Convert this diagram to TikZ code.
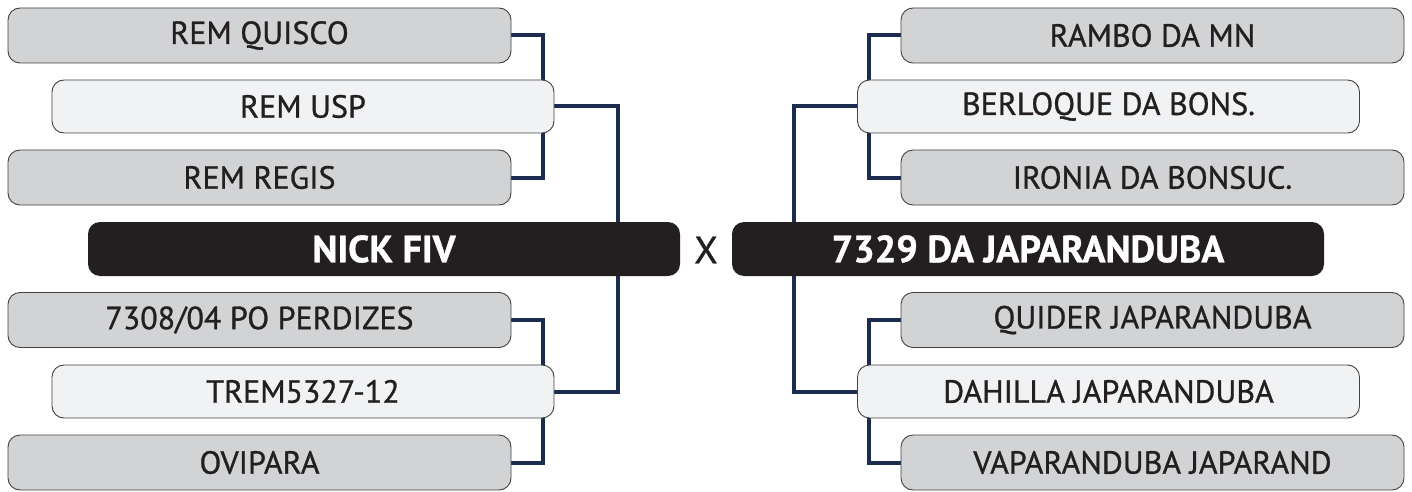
\documentclass[tikz,border=0pt]{standalone}
\usepackage{fontspec}
\setmainfont{PT Sans}[FakeBold=0.9]
\usepackage{tikz}
\usetikzlibrary{positioning,backgrounds}
\definecolor{navy}{RGB}{27,44,78}
\definecolor{ink}{RGB}{35,31,32}
\definecolor{boxgray}{RGB}{209,211,212}
\definecolor{boxlight}{RGB}{241,242,243}

\begin{document}
\begin{tikzpicture}[
  x=1pt, y=-1pt,
  every node/.style={font=\fontsize{32}{34}\selectfont, text=ink, inner sep=0pt},
  entry/.style={draw=ink!85, line width=0.9pt, rounded corners=12pt,
    fill=boxgray, minimum width=503pt, minimum height=55pt},
  winner/.style={entry, fill=boxlight, minimum width=502pt, minimum height=53pt},
  final/.style={fill=ink, rounded corners=12pt, minimum width=592pt,
    minimum height=54pt, text=white, font=\fontsize{38}{40}\selectfont\bfseries},
  link/.style={draw=navy, line width=4pt}
]
  \useasboundingbox (0,0) rectangle (1412,492);

  % Left bracket
  \node[entry]  (quisco) at (259.5,35.5) {REM QUISCO};
  \node[winner] (usp)    at (303,106.5)  {REM USP};
  \node[entry]  (regis)  at (259.5,177.5) {REM REGIS};
  \node[entry]  (perdiz) at (259.5,320) {7308/04 PO PERDIZES};
  \node[winner] (trem)   at (303,391.5)  {TREM5327-12};
  \node[entry]  (ovip)   at (259.5,462.5) {OVIPARA};

  % Right bracket
  \node[entry]  (rambo)    at (1152.5,35.5) {RAMBO DA MN};
  \node[winner] (berloque) at (1108.5,106.5) {BERLOQUE DA BONS.};
  \node[entry]  (ironia)   at (1152.5,177.5) {IRONIA DA BONSUC.};
  \node[entry]  (quider)   at (1152.5,320) {QUIDER JAPARANDUBA};
  \node[winner] (dahilla)  at (1108.5,391.5) {DAHILLA JAPARANDUBA};
  \node[entry]  (vapar)    at (1152.5,462.5) {VAPARANDUBA JAPARAND};

  % Final
  \node[final] (nick)  at (384,249) {NICK FIV};
  \node[final] (japar) at (1028,249) {7329 DA JAPARANDUBA};
  \node[font=\fontsize{38}{40}\selectfont] (vs) at (706,250) {X};

  \begin{scope}[on background layer]
    \draw[link] (quisco.east) -- ++(32,0) |- (regis.east);
    \draw[link] (perdiz.east) -- ++(32,0) |- (ovip.east);
    \draw[link] (usp.east) -- ++(64,0) |- (trem.east);
    \draw[link] (rambo.west) -- ++(-32,0) |- (ironia.west);
    \draw[link] (quider.west) -- ++(-32,0) |- (vapar.west);
    \draw[link] (berloque.west) -- ++(-63,0) |- (dahilla.west);
  \end{scope}
\end{tikzpicture}
\end{document}
